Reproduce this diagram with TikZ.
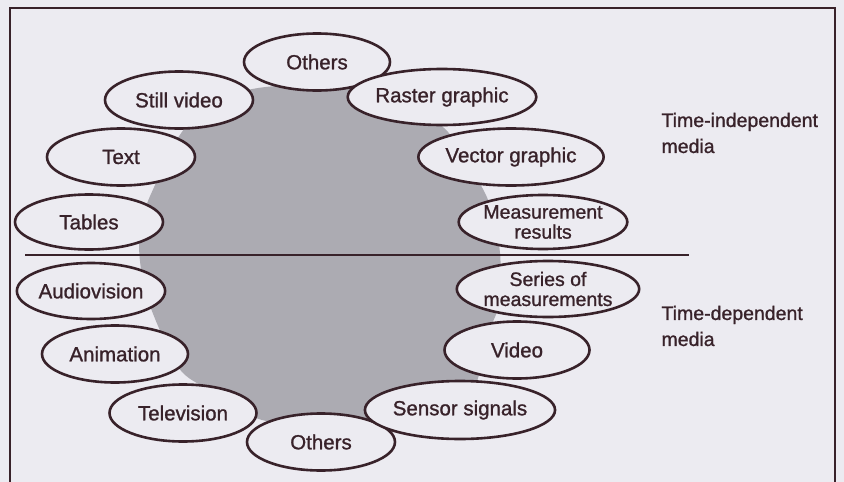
\documentclass[tikz,border=0pt]{standalone}
\usepackage{fontspec}
\setmainfont{Liberation Sans}
\newfontfamily\inkfont{Liberation Sans}[FakeBold=1.1]
\usetikzlibrary{shapes.geometric}
\definecolor{paper}{RGB}{236,235,241}
\definecolor{ink}{RGB}{56,34,42}
\definecolor{blob}{RGB}{172,171,178}

\begin{document}
\begin{tikzpicture}[x=1pt, y=-1pt,
  medium/.style={ellipse, draw=ink, line width=2.6pt, fill=paper, inner sep=0pt, minimum width=148pt, minimum height=57pt, text=ink, font=\inkfont\fontsize{20.5}{20}\selectfont, align=center},
  twoline/.style={font=\inkfont\fontsize{19.5}{20}\selectfont},
  group/.style={text=ink, font=\inkfont\fontsize{19.5}{26}\selectfont, align=left, anchor=west}]

% Background
\fill[paper] (0,0) rectangle (844,482);
\useasboundingbox (0,0) rectangle (844,482);
\draw[ink, line width=2.2pt] (10,495) -- (10,8) -- (835,8) -- (835,495);
\fill[blob] plot[smooth cycle, tension=0.55] coordinates {
  (258,88) (315,84) (372,86) (418,110) (448,132) (472,170) (490,205)
  (500,253) (499,303) (490,330) (480,372) (465,395) (395,420)
  (330,424) (262,420) (215,393) (182,372) (162,335) (145,290)
  (139,245) (145,210) (155,185) (172,148) (192,120) (225,98)};

% Nodes
\node (otherstop) [medium, minimum width=146pt] at (317,62) {Others};
\node (stillvideo) [medium] at (179,100) {Still video};
\node (text) [medium] at (121,157) {Text};
\node (tables) [medium, minimum height=55pt] at (89,222) {Tables};
\node (raster) [medium, minimum width=140pt, minimum height=56pt] at (442,97) {Raster graphic};
\node (vector) [medium, minimum width=142pt] at (511,157) {Vector graphic};
\node (measres) [medium, twoline, minimum width=147pt, minimum height=54pt] at (543,222) {Measurement\\results};

\node (audiovision) [medium, minimum height=56pt] at (91,291) {Audiovision};
\node (animation) [medium, minimum width=146pt] at (115,354) {Animation};
\node (television) [medium, minimum width=147pt] at (183,413) {Television};
\node (othersbot) [medium] at (321,442) {Others};
\node (sensor) [medium, minimum height=58pt] at (460,410) {Sensor signals};
\node (video) [medium, minimum width=145pt] at (517,350) {Video};
\node (series) [medium, twoline, minimum width=155pt, minimum height=56pt] at (548,289) {Series of\\measurements};

\node (indep) [group] at (658,133) {Time-independent\\media};
\node (dep) [group] at (658,326) {Time-dependent\\media};

% Divider
\coordinate (divl) at (25,255);
\coordinate (divr) at (689,255);
\draw[ink, line width=2.2pt] (divl) -- (divr);

\end{tikzpicture}
\end{document}
